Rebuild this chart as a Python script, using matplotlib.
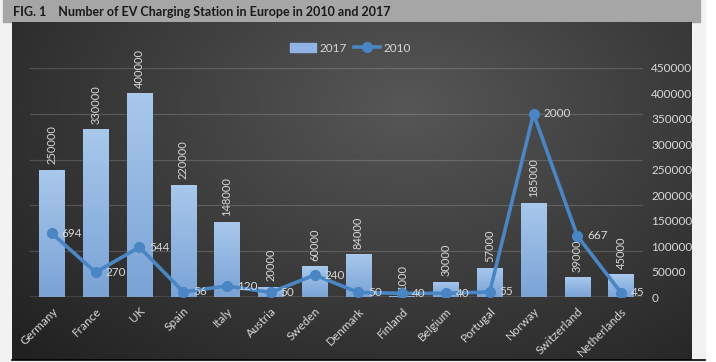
import matplotlib

matplotlib.use("Agg")
import matplotlib.pyplot as plt
import numpy as np
from matplotlib.lines import Line2D
from matplotlib.patches import Patch, Rectangle

plt.rcParams["font.family"] = ["Lato", "DejaVu Sans"]

countries = ["Germany", "France", "UK", "Spain", "Italy", "Austria", "Sweden",
             "Denmark", "Finland", "Belgium", "Portugal", "Norway",
             "Switzerland", "Netherlands"]
stations_2017 = [250000, 330000, 400000, 220000, 148000, 20000, 60000,
                 84000, 1000, 30000, 57000, 185000, 39000, 45000]
stations_2010 = [694, 270, 544, 56, 120, 50, 240, 50, 40, 40, 55, 2000, 667, 45]
bar_labels = ["250000", "330000", "400000", "220000", "148000", "20000", "60000",
              "84000", "1000", "30000", "57000", "185000", "39000", "45000"]

txt = "#d9d9d9"
bar_col = "#8fb4e3"
line_col = "#4a86c4"

fig = plt.figure(figsize=(7.16, 3.62), dpi=100)
fig.patch.set_facecolor("white")
fig.patches.append(Rectangle((0, 0), 705 / 716, 1, transform=fig.transFigure,
                             color="#f2f2f2", zorder=-2))

# title band
fig.patches.append(Rectangle((3 / 716, 1 - 22 / 362), 697 / 716, 22 / 362,
                             transform=fig.transFigure, color="#a6a6a6", zorder=-1))
fig.text(13 / 716, 1 - 12 / 362, "FIG. 1    Number of EV Charging Station in Europe in 2010 and 2017",
         fontsize=9, fontweight="bold", color="#1a1a1a", va="center")

# dark gradient panel
bg = fig.add_axes([12 / 716, 2 / 362, 680 / 716, 338 / 362])
yy, xx = np.mgrid[0:1:200j, 0:1:400j]
d = np.sqrt(((xx - 0.58) / 0.75) ** 2 + ((yy - 0.25) / 1.0) ** 2)
shade = np.clip(0.34 - 0.2 * d, 0.13, 0.34)
bg.imshow(np.dstack([shade] * 3), aspect="auto", extent=[0, 1, 0, 1])
bg.set_axis_off()
fig.add_artist(Line2D([12 / 716, 705 / 716], [2 / 362, 2 / 362],
                      transform=fig.transFigure, color="black", lw=1.2))

ax = fig.add_axes([30 / 716, 65 / 362, 613 / 716, 229 / 362])
ax2 = ax.twinx()
ax3 = ax.twinx()
ax.patch.set_alpha(0)
x = np.arange(len(countries))

# primary (hidden) axis for 2010 gives the gridlines
ax.set_ylim(0, 2500)
ax.set_yticks(np.arange(0, 2501, 500))
ax.tick_params(axis="y", left=False, labelleft=False)
ax.grid(True, axis="y", color="#ffffff", alpha=0.16, lw=0.9)
ax.set_xlim(-0.5, len(countries) - 0.5)
ax.set_xticks(x)
ax.set_xticklabels(countries, rotation=45, ha="right", rotation_mode="anchor",
                   color=txt, fontsize=8.5)
ax.tick_params(axis="x", length=0, pad=6)
for a in (ax, ax2):
    for s in a.spines.values():
        s.set_visible(False)

ax2.set_yticks(np.arange(0, 450001, 50000))
ax2.tick_params(axis="y", length=0, colors=txt, labelsize=8.5, pad=6)
bars = ax2.bar(x, stations_2017, width=0.58, color=bar_col, zorder=2)
grad = np.linspace(0, 1, 64).reshape(-1, 1)
cmap = matplotlib.colors.LinearSegmentedColormap.from_list("b", ["#7aa3d6", "#a8c8ec"])
for b in bars:
    x0, w, h = b.get_x(), b.get_width(), b.get_height()
    im = ax2.imshow(grad, cmap=cmap, origin="lower", aspect="auto",
                    extent=[x0, x0 + w, 0, h], zorder=2)
    im.set_clip_path(b)
ax2.set_xlim(-0.5, len(countries) - 0.5)
ax2.set_ylim(0, 450000)
ax2.axhline(0, color="#a0a0a0", lw=1, zorder=3)
for xi, v, lab in zip(x, stations_2017, bar_labels):
    ax2.annotate(lab, (xi, v), xytext=(0, 4), textcoords="offset points",
                 rotation=90, ha="center", va="bottom", color=txt, fontsize=8)

ax3.set_ylim(0, 2500)
ax3.set_axis_off()
ax3.plot(x, stations_2010, color=line_col, lw=2.6, marker="o", ms=7, zorder=3)
for xi, v in zip(x, stations_2010):
    ax3.annotate(str(v), (xi, v), xytext=(7, 0), textcoords="offset points",
                 ha="left", va="center", color=txt, fontsize=8.5)

handles = [Patch(color=bar_col), Line2D([], [], color=line_col, lw=2.6, marker="o", ms=7)]
fig.legend(handles, ["2017", "2010"], loc="center", bbox_to_anchor=(350 / 716, 1 - 48 / 362),
           ncol=2, frameon=False, labelcolor=txt, fontsize=8.5, handlelength=2.2,
           columnspacing=0.6, handletextpad=0.3)

fig.savefig("out.png", dpi=100, facecolor=fig.get_facecolor())
